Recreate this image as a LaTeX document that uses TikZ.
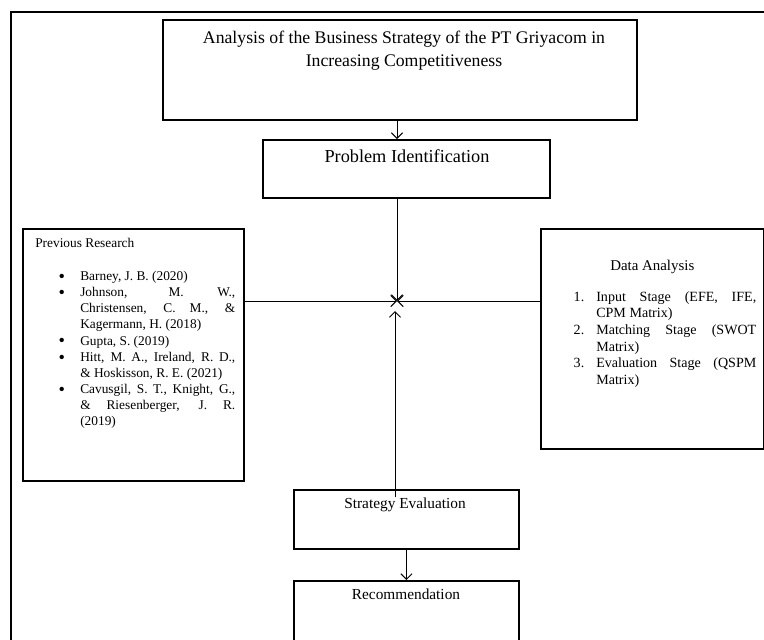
\documentclass[tikz,border=0pt]{standalone}
\usepackage{fontspec}
\setmainfont{Liberation Serif}
\usetikzlibrary{arrows.meta,positioning}

\begin{document}
\begin{tikzpicture}[x=0.025cm,y=-0.025cm,
    >={Straight Barb[length=4pt,width=8pt]},
    box/.style={draw,line width=1.3pt,inner sep=0pt,anchor=north west},
    conn/.style={line width=0.7pt},
    txt/.style={inner sep=0pt,font=\fontsize{10}{11.9}\selectfont},
    bigtxt/.style={txt,font=\fontsize{12.6}{16.3}\selectfont},
    midtxt/.style={txt,font=\fontsize{10.9}{12}\selectfont},
    reftxt/.style={txt,font=\fontsize{9.5}{11.5}\selectfont}
  ]
  \useasboundingbox (0,0) rectangle (764,639);
  % frame round the whole figure
  \draw[line width=1.2pt] (11,12) rectangle (800,700);

  \node[box,minimum width=11.85cm,minimum height=2.5cm] (title) at (162,19) {};
  \node[box,minimum width=7.175cm,minimum height=1.45cm] (prob) at (262,139) {};
  \node[box,minimum width=5.525cm,minimum height=6.3cm] (prev) at (22,228) {};
  \node[box,minimum width=5.575cm,minimum height=5.5cm] (data) at (540,228) {};
  \node[box,minimum width=5.625cm,minimum height=1.475cm] (eval) at (293,489) {};
  \node[box,minimum width=5.625cm,minimum height=2cm] (recom) at (293,580) {};

  \node[bigtxt,align=center,anchor=base] (titletxt) at (404,66)
    {Analysis of the Business Strategy of the PT Griyacom in\\Increasing Competitiveness};
  \node[bigtxt,font=\fontsize{13}{16}\selectfont,anchor=base] (probtxt) at (407,162) {Problem Identification};

  \node[reftxt,anchor=base west] (prevhead) at (35,247) {Previous Research};
  \node[reftxt,text width=5cm,align=justify,anchor=north west] (prevlist) at (35,264) {%
    \begin{list}{\raisebox{-1.2pt}{\fontsize{13}{13}\selectfont\textbullet}}{\setlength{\leftmargin}{1.125cm}\setlength{\labelsep}{0.38cm}%
      \setlength{\labelwidth}{0.3cm}\setlength{\itemsep}{0pt}\setlength{\parsep}{0pt}%
      \setlength{\topsep}{0pt}\setlength{\partopsep}{0pt}}
    \item Barney, J. B. (2020)
    \item Johnson, M. W.,\linebreak Christensen, C. M., \&\linebreak Kagermann, H. (2018)
    \item Gupta, S. (2019)
    \item Hitt, M. A., Ireland, R. D.,\linebreak \& Hoskisson, R. E. (2021)
    \item Cavusgil, S. T., Knight, G.,\linebreak \& Riesenberger, J. R.\linebreak (2019)
    \end{list}};

  \node[txt,font=\fontsize{10.6}{12}\selectfont,anchor=base west] (datahead) at (610,270) {Data Analysis};
  \node[txt,text width=4.575cm,align=justify,anchor=north west] (datalist) at (573,284) {%
    \begin{list}{}{\setlength{\leftmargin}{0.575cm}\setlength{\labelsep}{0.3cm}%
      \setlength{\labelwidth}{0.275cm}\setlength{\itemsep}{0pt}\setlength{\parsep}{0pt}%
      \setlength{\topsep}{0pt}\setlength{\partopsep}{0pt}}
    \item[1.] Input Stage (EFE, IFE,\linebreak CPM Matrix)
    \item[2.] Matching Stage (SWOT\linebreak Matrix)
    \item[3.] Evaluation Stage (QSPM\linebreak Matrix)
    \end{list}};

  \node[midtxt,anchor=base] (evaltxt) at (405,508) {Strategy Evaluation};
  \node[midtxt,anchor=base] (recomtxt) at (406,599) {Recommendation};

  % connectors meet at one point
  \coordinate (jn) at (397,301);
  \coordinate (jnup) at (395,311);
  \draw[conn,->] (title.south -| jn) -- (prob.north -| jn);
  \draw[conn,->] (prob.south -| jn) -- (jn);
  \draw[conn,->] (prev.east |- jn) -- (jn);
  \draw[conn,->] (data.west |- jn) -- (jn);
  \draw[conn,->] (evaltxt.north -| jnup) -- (jnup);
  \draw[conn,->] (eval.south) -- (recom.north);
\end{tikzpicture}
\end{document}
